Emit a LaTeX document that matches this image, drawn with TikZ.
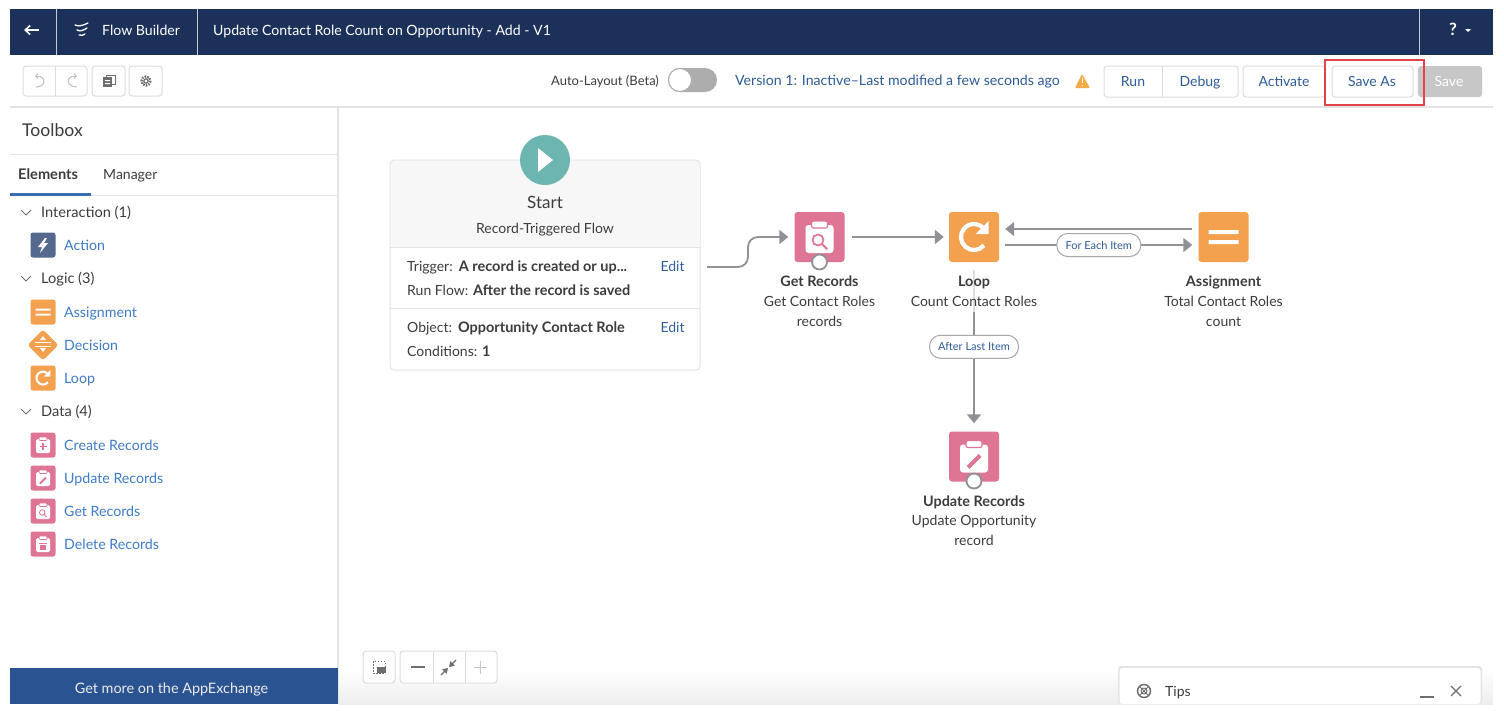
\documentclass[tikz,border=0pt]{standalone}
\usepackage{fontspec}
\setmainfont{Lato}
\usetikzlibrary{arrows.meta,shapes.geometric,calc}
\definecolor{navy}{HTML}{1C3159}
\definecolor{tealc}{HTML}{6DB5B1}
\definecolor{pinkc}{HTML}{DF7594}
\definecolor{orangec}{HTML}{F3A04F}
\definecolor{slatec}{HTML}{54698D}
\definecolor{linkc}{HTML}{3F7CC8}
\definecolor{linkd}{HTML}{2F5C98}
\definecolor{inkc}{HTML}{3C3C3C}
\definecolor{rulec}{HTML}{E3E3E3}
\definecolor{flowc}{HTML}{8F9196}
\definecolor{btnc}{HTML}{DDDDDD}
\definecolor{iconc}{HTML}{6E6E6E}
\definecolor{exch}{HTML}{2A5391}
\definecolor{redbox}{HTML}{E2434B}
\newcommand{\bt}[1]{{\bfseries\fontsize{14.5}{16}\selectfont #1}}
\tikzset{
  txt/.style={inner sep=0pt,yshift=-2pt,text=inkc,font=\fontsize{14}{16}\selectfont,text height=10pt,text depth=3pt},
  lft/.style={txt,anchor=west},
  ctr/.style={txt,anchor=center},
  boldlabel/.style={ctr,font=\bfseries\fontsize{14.4}{16}\selectfont},
  side/.style={lft,text=linkc,font=\fontsize{14.2}{16}\selectfont},
  sec/.style={lft,font=\fontsize{14.6}{16}\selectfont},
  hdr/.style={lft,text=white,font=\fontsize{14.1}{16}\selectfont},
  bigicon/.style={rounded corners=3pt,minimum size=50pt,inner sep=0pt,fill=#1},
  smallicon/.style={rounded corners=2.5pt,minimum size=25pt,inner sep=0pt,fill=#1},
  btn/.style={draw=btnc,line width=1pt,fill=white,rounded corners=3pt},
  rulel/.style={draw=rulec,line width=1pt},
  flow/.style={draw=flowc,line width=1.8pt,-{Triangle[length=9pt,width=14pt]}},
  pill/.style={draw=flowc!80,line width=1pt,fill=white,rounded corners=11pt,minimum height=23pt,inner xsep=0pt,text=linkd,font=\fontsize{11}{13}\selectfont,anchor=center},
  ring/.style={circle,draw=flowc,line width=1.8pt,fill=white,minimum size=15pt,inner sep=0pt},
  chev/.style={draw=iconc,line width=.8pt},
}
\newcommand{\clipglyph}[4]{%
 \begin{scope}[shift={(#1,#2)},scale=#3]
  \fill[white,rounded corners=#3*3pt] (-14,-12) rectangle (14,16);
  \fill[white,draw=pinkc,line width=#3*1.2pt,rounded corners=#3*2pt] (-8,-16) rectangle (8,-9);
  \csname glyph#4\endcsname{#3}
 \end{scope}}
\newcommand{\glyphsearch}[1]{%
  \draw[pinkc,line width=#1*1.7pt] (-1.5,3) circle[radius=5.5];
  \draw[pinkc,line width=#1*2pt,line cap=round] (2.5,7) -- (7.5,12);}
\newcommand{\glyphpencil}[1]{%
  \draw[pinkc,line width=#1*4pt] (-6,11) -- (6,-1);}
\newcommand{\glyphplus}[1]{%
  \draw[pinkc,line width=#1*3pt] (-7,3) -- (7,3) (0,-4) -- (0,10);}
\newcommand{\glyphtrash}[1]{%
  \fill[pinkc] (-6,1) rectangle (6,11);
  \fill[pinkc] (-8,-3) rectangle (8,-1);}
\newcommand{\loopglyph}[3]{%
 \begin{scope}[shift={(#1,#2)},scale=#3]
  \draw[white,line width=#3*4.2pt] (40:13) arc[start angle=40,end angle=318,radius=13];
  \fill[white] (14.5,-16) -- (14.5,-3) -- (1.5,-3) -- cycle;
 \end{scope}}
\newcommand{\eqglyph}[3]{%
 \begin{scope}[shift={(#1,#2)},scale=#3]
  \fill[white] (-15,-7) rectangle (15,-3) (-15,3) rectangle (15,7);
 \end{scope}}
\begin{document}
\begin{tikzpicture}[x=1pt,y=-1pt]
\useasboundingbox (0,0) rectangle (1504,724);
\fill[white] (0,0) rectangle (1504,724);
% canvas bottom shade
\shade[top color=white,bottom color=black!7] (339,668) rectangle (1493,704);
% header
\fill[navy] (10,9) rectangle (1493,55);
\draw[white!75!navy,line width=1pt] (56,9) -- (56,55) (197,9) -- (197,55) (1419,9) -- (1419,55);
\draw[white,line width=1.6pt,-{Straight Barb[length=5pt,width=9pt]}] (39,30) -- (24,30);
\draw[white,line width=1.3pt,line cap=round] (75,25) .. controls (79,27) and (84,25) .. (88,23) (77,30) .. controls (80,32) and (84,30) .. (87,28) (79,35) .. controls (81,36) and (84,35) .. (85,34);
\node[hdr] (fb) at (102,30) {Flow Builder};
\node[hdr] (title) at (213,30) {Update Contact Role Count on Opportunity - Add - V1};
\node[ctr,text=white,font=\bfseries\fontsize{17}{18}\selectfont] (help) at (1453,30) {?};
\fill[white] (1465,29) -- (1471,29) -- (1468,32) -- cycle;
% toolbar
\draw[btn] (23,66) rectangle (87,96);
\draw[draw=btnc] (55,66) -- (55,96);
\draw[btn] (92,66) rectangle (125,96);
\draw[btn] (129,66) rectangle (162,96);
\draw[black!25,line width=1pt,-{Straight Barb[length=2.5pt,width=5pt]}] (36,87) .. controls (46,87) and (47,76) .. (35,76);
\draw[black!25,line width=1pt,-{Straight Barb[length=2.5pt,width=5pt]}] (77,87) .. controls (66,87) and (65,76) .. (77,76);
\draw[iconc,line width=1pt] (106,75) rectangle (115,84);
\fill[iconc] (103,77) rectangle (112,87);
\fill[white] (105,80) rectangle (110,81) (105,83) rectangle (110,84);
\draw[iconc,line width=2.2pt,dash pattern=on 1.6pt off 1.2pt] (146,81) circle[radius=4.6];
\draw[iconc,line width=1.2pt] (146,81) circle[radius=2.2];
\draw[rulel,line width=1.4pt] (10,107) -- (1493,107);
\node[ctr,font=\fontsize{13}{15}\selectfont] (auto) at (605,80) {Auto-Layout (Beta)};
\fill[black!32,rounded corners=12pt] (668,68) rectangle (717,92);
\node[circle,fill=white,draw=black!32,line width=1pt,minimum size=23pt,inner sep=0pt] (knob) at (680,80) {};
\node[ctr,text=linkd,font=\fontsize{14.15}{16}\selectfont] (ver) at (897.5,80) {Version 1: Inactive–Last modified a few seconds ago};
\fill[orangec!90!yellow,rounded corners=1pt] (1082,74) -- (1090,88) -- (1075,88) -- cycle;
\draw[white,line width=1pt] (1082.5,78) -- (1082.5,83) (1082.5,84.5) -- (1082.5,86);
\draw[btn] (1104,66) rectangle (1238,97);
\draw[draw=btnc] (1162,66) -- (1162,97);
\draw[btn] (1243,66) rectangle (1325,97);
\draw[btn] (1332,66) rectangle (1413,97);
\fill[black!22,rounded corners=3pt] (1418,66) rectangle (1482,97);
\node[ctr,text=linkd] (run) at (1133,81) {Run};
\node[ctr,text=linkd] (debug) at (1200,81) {Debug};
\node[ctr,text=linkd] (act) at (1284,81) {Activate};
\node[ctr,text=linkd] (sas) at (1372,81) {Save As};
\node[ctr,text=white] (sav) at (1449,81) {Save};
\draw[draw=redbox,line width=1.2pt] (1325,60) rectangle (1424,105);
% toolbox
\draw[rulel,line width=1.4pt] (338,107) -- (338,704);
\node[lft,font=\fontsize{17.6}{19}\selectfont] (tbx) at (22,131) {Toolbox};
\draw[rulel] (10,154) -- (338,154) (10,195) -- (338,195);
\node[lft,font=\bfseries\fontsize{14.6}{16}\selectfont] (el) at (18,174) {Elements};
\node[lft] (mgr) at (103,174) {Manager};
\fill[linkc!80!navy] (10,193) rectangle (91,196);
\draw[chev] (21,210) -- (26,215) -- (31,210);
\draw[chev] (21,276) -- (26,281) -- (31,276);
\draw[chev] (21,409) -- (26,414) -- (31,409);
\node[sec] (s1) at (41,212) {Interaction (1)};
\node[sec] (s2) at (41,278) {Logic (3)};
\node[sec] (s3) at (41,411) {Data (4)};
\node[side] (t1) at (64,245) {Action};
\node[side] (t2) at (64,312) {Assignment};
\node[side] (t3) at (64,345) {Decision};
\node[side] (t4) at (64,378) {Loop};
\node[side] (t5) at (64,445) {Create Records};
\node[side] (t6) at (64,478) {Update Records};
\node[side] (t7) at (64,511) {Get Records};
\node[side] (t8) at (64,544) {Delete Records};
\node[smallicon=slatec] (i1) at (43,245) {};
\fill[white] (45,238) -- (38,247) -- (42,247) -- (40,253) -- (48,243) -- (44,243) -- (47,238) -- cycle;
\node[smallicon=orangec] (i2) at (43,312) {};
\eqglyph{43}{312}{.5}
\node[diamond,aspect=1,fill=orangec,inner sep=0pt,minimum size=31pt,rounded corners=3pt] (i3) at (43,345) {};
\draw[white,line width=1pt] (35,342) -- (51,342) (35,346) -- (51,346);
\fill[white] (43,336) -- (46,340) -- (40,340) -- cycle (43,352) -- (46,348) -- (40,348) -- cycle;
\node[smallicon=orangec] (i4) at (43,378) {};
\loopglyph{43}{378}{.5}
\node[smallicon=pinkc] (i5) at (43,445) {};
\clipglyph{43}{445}{.5}{plus}
\node[smallicon=pinkc] (i6) at (43,478) {};
\clipglyph{43}{478}{.5}{pencil}
\node[smallicon=pinkc] (i7) at (43,511) {};
\clipglyph{43}{511}{.5}{search}
\node[smallicon=pinkc] (i8) at (43,544) {};
\clipglyph{43}{544}{.5}{trash}
\fill[exch] (10,668) rectangle (338,704);
\node[ctr,text=white!92!black,font=\fontsize{14.4}{16}\selectfont] (ax) at (171.5,688) {Get more on the AppExchange};
% start card
\draw[draw=rulec,line width=1pt,fill=white,rounded corners=4pt] (390,160) rectangle (700,370);
\fill[black!3,rounded corners=4pt] (390.5,160.5) -- (699.5,160.5) -- (699.5,247) -- (390.5,247) -- cycle;
\draw[rulel] (390,247) -- (700,247) (390,308) -- (700,308);
\node[circle,fill=tealc,minimum size=50pt,inner sep=0pt] (play) at (545,160) {};
\fill[white] (538,148) -- (553,160) -- (538,172) -- cycle;
\node[ctr,font=\fontsize{17}{19}\selectfont] (st) at (545,203) {Start};
\node[ctr] (rt) at (545,228) {Record-Triggered Flow};
\node[lft] (r1) at (407,266) {Trigger:\hspace{6pt}\bt{A record is created or up...}};
\node[lft] (r2) at (407,290) {Run Flow: \bt{After the record is saved}};
\node[lft] (r3) at (407,327) {Object:\hspace{6pt}\bt{Opportunity Contact Role}};
\node[lft] (r4) at (407,351) {Conditions: \bt{1}};
\node[ctr,text=linkd!85!linkc] (e1) at (672.5,266) {Edit};
\node[ctr,text=linkd!85!linkc] (e2) at (672.5,327) {Edit};
\coordinate (cardout) at (707,267);
% flow nodes
\node[bigicon=pinkc] (getrec) at (819.5,237) {};
\clipglyph{819.5}{237}{1}{search}
\node[ring] at (819.5,262) (getring) {};
\node[bigicon=orangec] (loopn) at (974,237) {};
\loopglyph{974}{237}{1}
\node[bigicon=orangec] (assign) at (1223.5,237) {};
\eqglyph{1223.5}{237}{1}
\node[bigicon=pinkc] (updrec) at (974,456.5) {};
\clipglyph{974}{456.5}{1}{pencil}
\node[ring] at (974,481) (updring) {};
% connectors
\draw[flow,rounded corners=10pt] (cardout) -- (748,267) -- (748,237) -- ([xshift=-6pt]getrec.west);
\draw[flow] ([xshift=7pt]getrec.east) -- ([xshift=-5pt]loopn.west);
\draw[flow] ([xshift=6pt,yshift=-8pt]loopn.east) -- ([xshift=-6pt,yshift=-8pt]assign.west) node[pill,pos=.5,minimum width=84pt] (fe) {For Each Item};
\draw[flow] ([xshift=-6pt,yshift=8pt]assign.west) -- ([xshift=6pt,yshift=8pt]loopn.east);
\draw[flow] ([yshift=-8pt]loopn.south) -- ([yshift=8pt]updrec.north) node[pill,pos=.5,minimum width=89pt] (ali) {After Last Item};
\fill[white,opacity=.7] (971,268) rectangle (977,312);
% labels
\node[boldlabel] (l1a) at (819.5,281) {Get Records};
\node[ctr] (l1b) at (819.5,301) {Get Contact Roles};
\node[ctr] (l1c) at (819.5,321) {records};
\node[boldlabel] (l2a) at (974,281) {Loop};
\node[ctr] (l2b) at (974,301) {Count Contact Roles};
\node[boldlabel] (l3a) at (1223.5,281) {Assignment};
\node[ctr] (l3b) at (1223.5,301) {Total Contact Roles};
\node[ctr] (l3c) at (1223.5,321) {count};
\node[boldlabel] (l4a) at (974,501) {Update Records};
\node[ctr] (l4b) at (974,520) {Update Opportunity};
\node[ctr] (l4c) at (974,540) {record};
% canvas controls
\draw[btn] (363,651) rectangle (395,683);
\draw[btn] (400,651) rectangle (497,683);
\draw[draw=btnc] (433,651) -- (433,683) (465,651) -- (465,683);
\draw[iconc,line width=1pt,dash pattern=on 1.5pt off 1.5pt] (373,661) rectangle (385,673);
\fill[iconc] (377,667) rectangle (386,673);
\draw[iconc,line width=1.3pt] (411,667) -- (425,667);
\draw[iconc,line width=1.2pt,-{Triangle[length=5pt,width=6pt]}] (441,675) -- (448,668);
\draw[iconc,line width=1.2pt,-{Triangle[length=5pt,width=6pt]}] (456,660) -- (449,667);
\draw[black!22,line width=1pt] (474,667) -- (487,667) (480.5,660.5) -- (480.5,673.5);
% tips
\fill[black!10,rounded corners=3pt] (1118,666) rectangle (1482,704);
\fill[white,rounded corners=3pt] (1119.5,668) -- (1480.5,668) -- (1480.5,704) -- (1119.5,704) -- cycle;
\draw[iconc,line width=1.5pt] (1144,691) circle[radius=6.5];
\draw[iconc,line width=.9pt] (1144,691) circle[radius=3] (1139.5,686.5) -- (1148.5,695.5) (1148.5,686.5) -- (1139.5,695.5);
\node[lft] (tips) at (1165,691) {Tips};
\draw[iconc,line width=1.4pt] (1420,697) -- (1434,697);
\draw[iconc,line width=1.2pt] (1451,686) -- (1461,696) (1461,686) -- (1451,696);
\end{tikzpicture}
\end{document}
